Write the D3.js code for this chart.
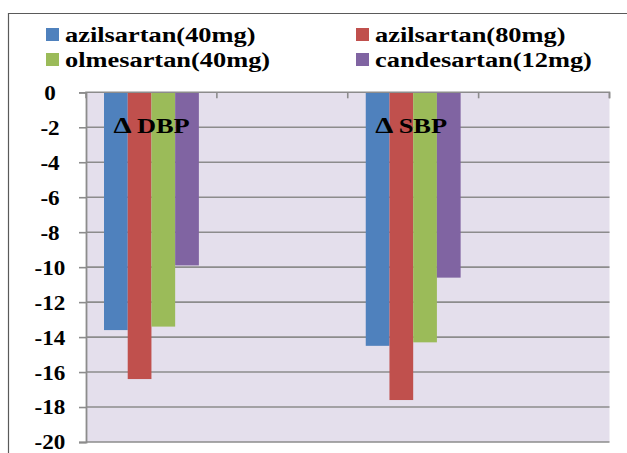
<!DOCTYPE html>
<html>
<head>
<meta charset="utf-8">
<script src="https://cdn.jsdelivr.net/npm/d3@7"></script>
<style>
  html, body { margin: 0; padding: 0; background: #fff; }
  svg { display: block; }
  svg text { font-family: "Liberation Serif", "Times New Roman", serif; font-weight: bold; fill: #000; }
</style>
</head>
<body>
<svg id="chart" width="627" height="453"></svg>
<script>
// ---- data ----
const categories = ["Δ DBP", "", "Δ SBP", ""];
const seriesNames = ["azilsartan(40mg)", "azilsartan(80mg)", "olmesartan(40mg)", "candesartan(12mg)"];
const azilsartan40 = [-13.6, null, -14.5, null];
const azilsartan80 = [-16.4, null, -17.6, null];
const olmesartan40 = [-13.4, null, -14.3, null];
const candesartan12 = [-9.9, null, -10.6, null];
const yTicks = [0, -2, -4, -6, -8, -10, -12, -14, -16, -18, -20];
const colors = ["#4F81BD", "#C0504D", "#9BBB59", "#8064A2"];

const seriesValues = [azilsartan40, azilsartan80, olmesartan40, candesartan12];

const svg = d3.select("#chart");
const W = 627, H = 453;
const plot = { left: 86, right: 609.5, top: 92.3, bottom: 442 };
const SX = 1.2; // horizontal stretch of text
const FONT = '"Liberation Serif", "Times New Roman", serif';

// frame
svg.append("path")
  .attr("d", `M8.5,${H} V13.5 H${W}`)
  .attr("fill", "none").attr("stroke", "#5a5a5a").attr("stroke-width", 1.2);

// scales
const slots = d3.range(categories.length);
const x = d3.scaleBand().domain(slots).range([plot.left, plot.right]).padding(0);
const bw = x.bandwidth();
const xs = d3.scaleBand().domain(d3.range(seriesNames.length)).range([18, bw - 18]).padding(0);
const y = d3.scaleLinear().domain([0, -20]).range([plot.top, plot.bottom]);

// plot background
svg.append("rect")
  .attr("x", plot.left).attr("y", plot.top)
  .attr("width", plot.right - plot.left).attr("height", plot.bottom - plot.top)
  .attr("fill", "#E4DFEC");

// gridlines
svg.append("g").selectAll("line").data(yTicks.filter(d => d !== 0)).join("line")
  .attr("x1", plot.left).attr("x2", plot.right)
  .attr("y1", d => y(d)).attr("y2", d => y(d))
  .attr("stroke", "#8C8C8C").attr("stroke-width", 1.6);

// bars
const gBars = svg.append("g");
seriesValues.forEach((vals, si) => {
  gBars.append("g").selectAll("rect")
    .data(vals.map((v, i) => ({ v, i })).filter(d => d.v !== null))
    .join("rect")
    .attr("x", d => x(d.i) + xs(si))
    .attr("width", xs.bandwidth())
    .attr("y", y(0))
    .attr("height", d => y(d.v) - y(0))
    .attr("fill", colors[si]);
});

// y axis
const yAxis = d3.axisLeft(y).tickValues(yTicks).tickSize(7).tickFormat(d3.format("d"));
const gy = svg.append("g").attr("transform", `translate(${plot.left},0)`).call(yAxis);
gy.attr("font-family", null);
gy.select(".domain").attr("stroke", "#8C8C8C").attr("stroke-width", 1.8);
gy.selectAll(".tick line").attr("stroke", "#8C8C8C").attr("stroke-width", 1.6);
gy.selectAll(".tick text").remove();
gy.selectAll(".tick").append("text")
  .attr("text-anchor", "middle")
  .attr("dy", "0.33em")
  .attr("transform", `translate(${50 - plot.left},0) scale(1.1,1)`)
  .style("font-family", FONT).style("font-weight", "bold")
  .style("font-size", "21px")
  .text(d => d3.format("d")(d).replace("−", "-"));

// x axis (top, at zero)
const xAxis = d3.axisBottom(x).tickSize(6).tickFormat("");
const gx = svg.append("g").attr("transform", `translate(0,${y(0)})`).call(xAxis);
gx.select(".domain").attr("stroke", "#8C8C8C").attr("stroke-width", 1.6).attr("d", `M${plot.left},6V0H${plot.right}V6`);
gx.selectAll(".tick").attr("transform", d => `translate(${x(d) + bw},0)`);
gx.selectAll(".tick line").attr("stroke", "#8C8C8C").attr("stroke-width", 1.6);

// category labels inside bars ("Δ" and the rest placed as tspans)
const lab = svg.append("g").selectAll("text")
  .data(categories.map((c, i) => ({ c, i })).filter(d => d.c !== ""))
  .join("text")
  .attr("transform", d => `translate(${x(d.i) + 18 + (bw - 36) / 2 - 38},133) scale(${SX},1)`)
  .attr("text-anchor", "start")
  .style("font-family", FONT).style("font-weight", "bold")
  .style("font-size", "22px");
lab.append("tspan").attr("x", 0).style("font-size", "24px").text(d => d.c.split(" ")[0] + " ");
lab.append("tspan").attr("x", 23.5 / SX).text(d => d.c.split(" ").slice(1).join(" "));

// legend
const legendPos = [[46, 42], [356, 42], [46, 67], [356, 67]];
const lg = svg.append("g").selectAll("g").data(seriesNames).join("g")
  .attr("transform", (d, i) => `translate(${legendPos[i][0]},${legendPos[i][1]})`);
lg.append("rect").attr("x", 0).attr("y", -14).attr("width", 13).attr("height", 13)
  .attr("fill", (d, i) => colors[i]);
lg.append("text")
  .attr("transform", `translate(19,0) scale(${SX},1)`)
  .style("font-family", FONT).style("font-weight", "bold")
  .style("font-size", "22px")
  .text(d => d);
</script>
</body>
</html>
